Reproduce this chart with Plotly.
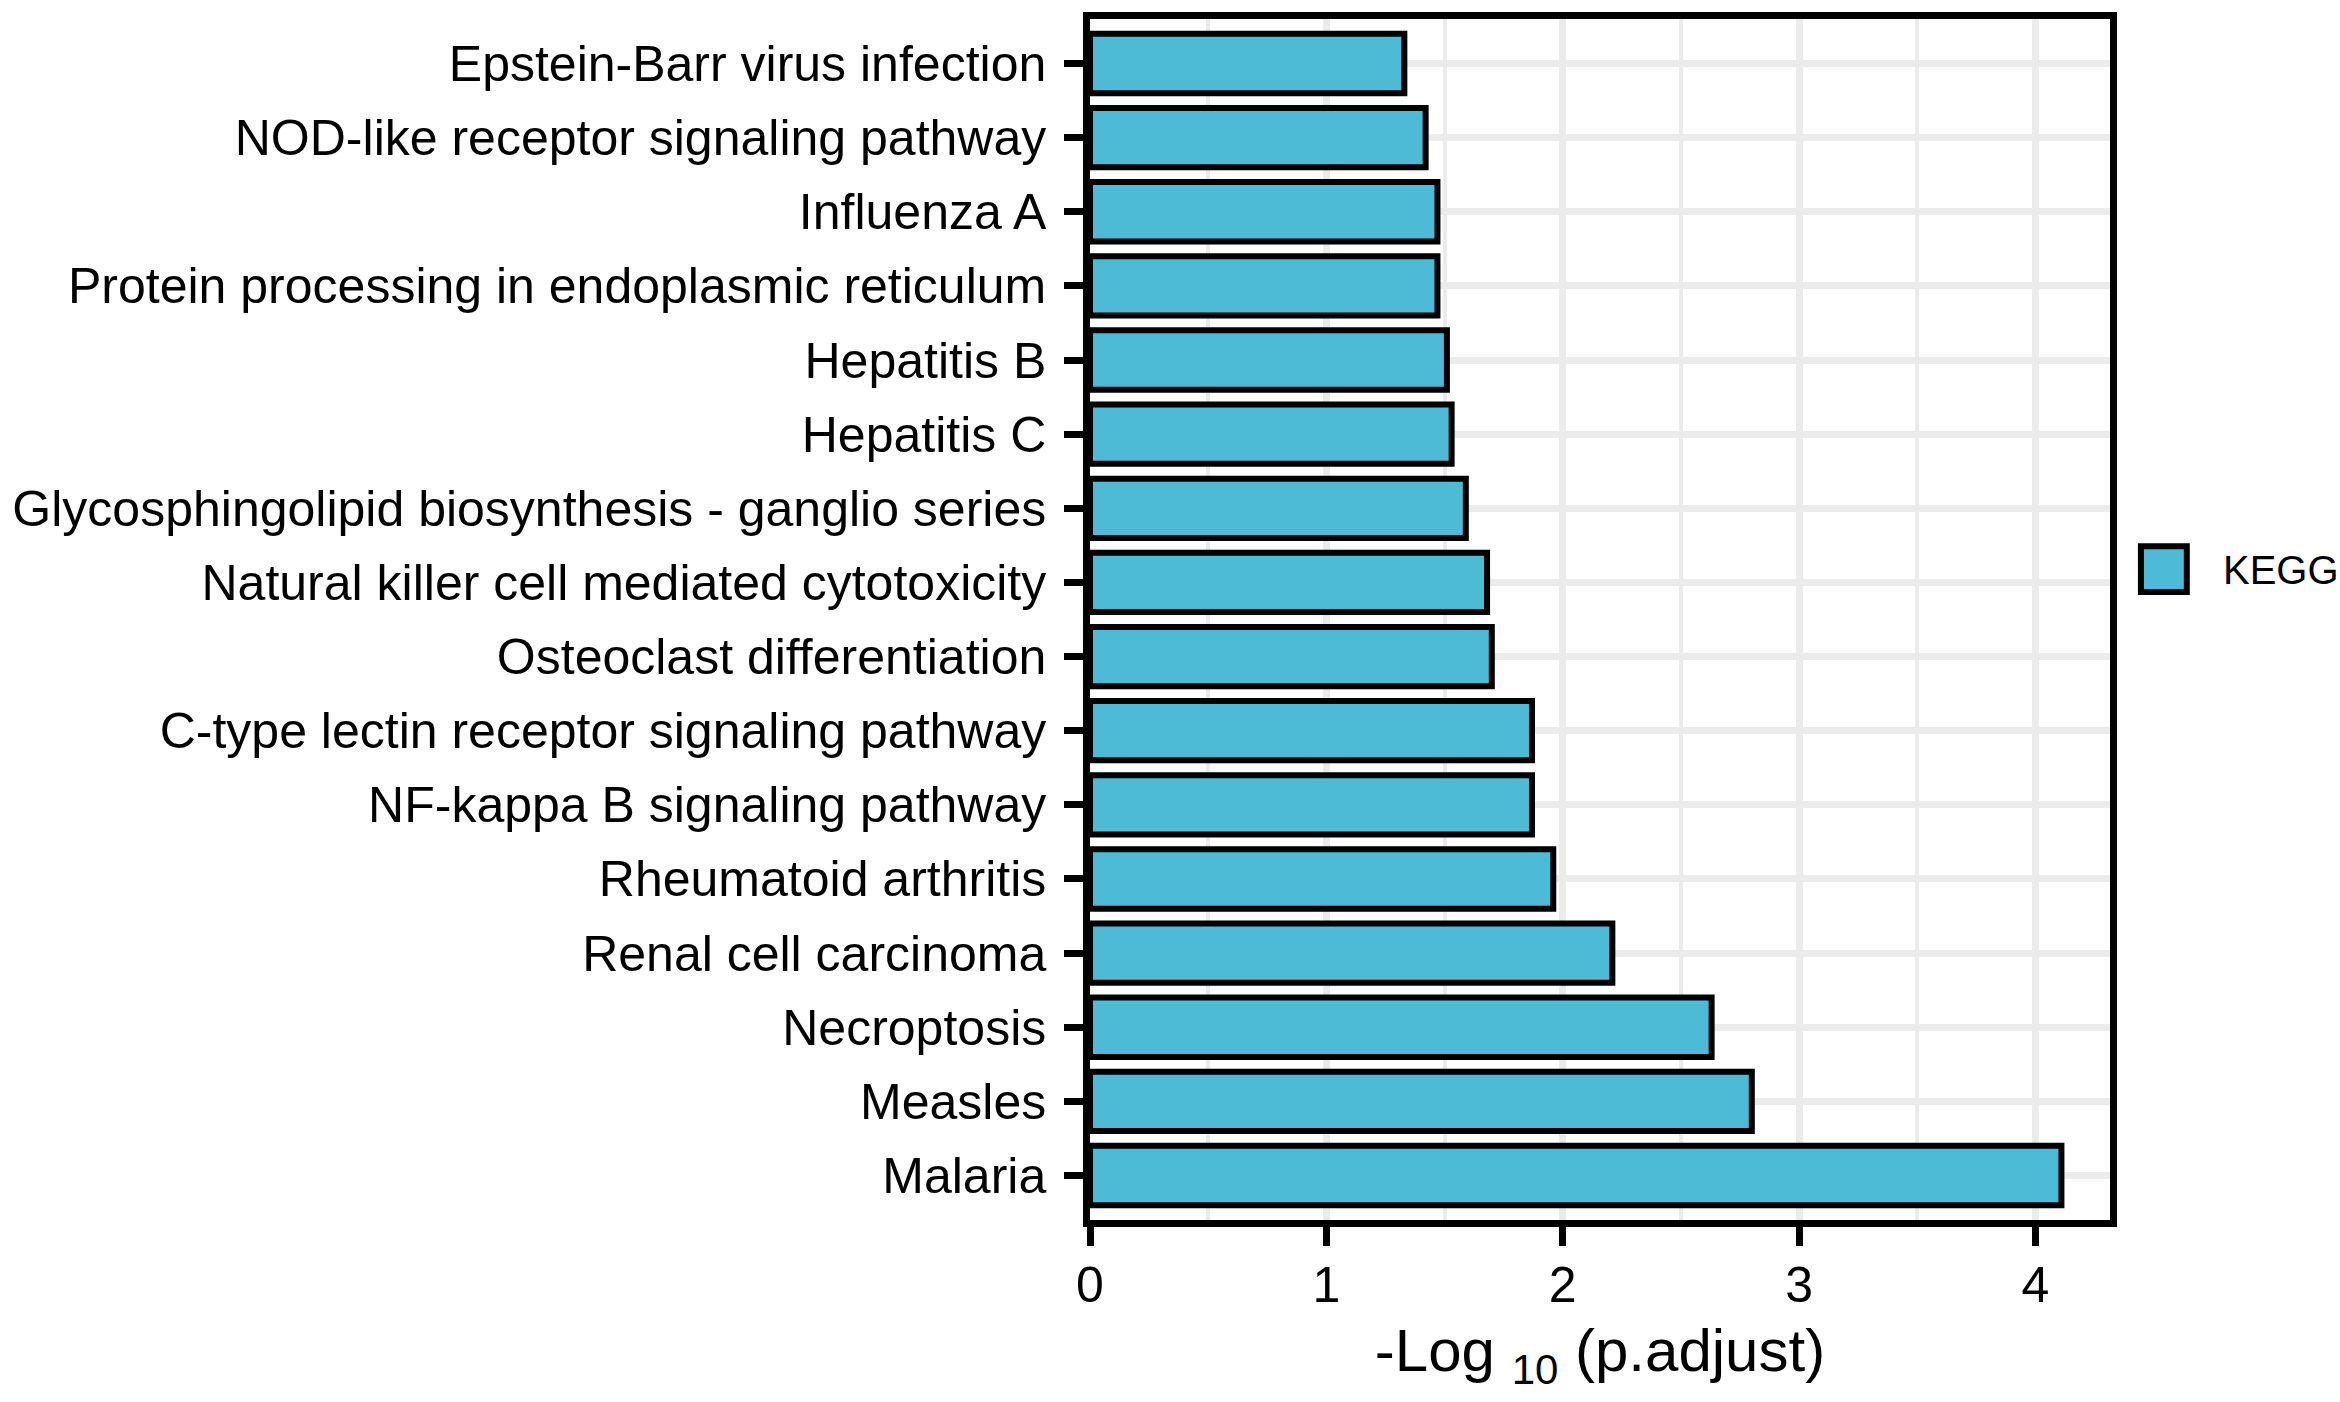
import plotly.graph_objects as go

# Categories listed top to bottom as in the chart
pathways = [
    "Epstein-Barr virus infection",
    "NOD-like receptor signaling pathway",
    "Influenza A",
    "Protein processing in endoplasmic reticulum",
    "Hepatitis B",
    "Hepatitis C",
    "Glycosphingolipid biosynthesis - ganglio series",
    "Natural killer cell mediated cytotoxicity",
    "Osteoclast differentiation",
    "C-type lectin receptor signaling pathway",
    "NF-kappa B signaling pathway",
    "Rheumatoid arthritis",
    "Renal cell carcinoma",
    "Necroptosis",
    "Measles",
    "Malaria",
]
neg_log10_padj = [1.33, 1.42, 1.47, 1.47, 1.51, 1.53, 1.59, 1.68, 1.70,
                  1.87, 1.87, 1.96, 2.21, 2.63, 2.80, 4.11]
x_ticks = [0, 1, 2, 3, 4]
x_title = "-Log <sub>10</sub> (p.adjust)"
series_name = "KEGG"

BAR_COLOR = "#4DBBD5"
GRID = "#EBEBEB"
FONT = "Liberation Sans, Arial, sans-serif"

fig = go.Figure()
fig.add_trace(go.Bar(
    y=pathways,
    x=neg_log10_padj,
    orientation="h",
    width=0.8,
    name=series_name,
    showlegend=False,
    marker=dict(color=BAR_COLOR, line=dict(color="black", width=6)),
))

xmax = max(neg_log10_padj) * 1.05

fig.update_layout(
    width=2340,
    height=1402,
    margin=dict(l=1087, r=230, t=13, b=182, pad=0),
    paper_bgcolor="white",
    plot_bgcolor="white",
    font=dict(family=FONT, color="black", size=50),
)

fig.update_xaxes(
    range=[0, xmax],
    tickmode="array",
    tickvals=x_ticks,
    ticktext=[str(t) for t in x_ticks],
    showgrid=True, gridcolor=GRID, gridwidth=7,
    minor=dict(tick0=0, dtick=0.5, showgrid=True, gridcolor=GRID, gridwidth=3.5),
    zeroline=False,
    showline=True, linecolor="black", linewidth=6.5, mirror=True,
    ticks="outside", ticklen=19, tickwidth=6.5, tickcolor="black",
    ticklabelstandoff=-4,
    tickfont=dict(family=FONT, size=50, color="black"),
    title=dict(text=x_title, standoff=20,
               font=dict(family=FONT, size=60, color="black")),
)

fig.update_yaxes(
    type="category",
    categoryorder="array",
    categoryarray=pathways[::-1],
    range=[-0.6, len(pathways) - 0.4],
    showgrid=True, gridcolor=GRID, gridwidth=7,
    zeroline=False,
    showline=True, linecolor="black", linewidth=6.5, mirror=True,
    ticks="outside", ticklen=19, tickwidth=6.5, tickcolor="black",
    ticklabelstandoff=8,
    tickfont=dict(family=FONT, size=50, color="black"),
)

# Legend (drawn manually to match the large ggplot key)
fig.add_shape(type="rect", xref="paper", yref="paper",
              x0=1.0303, x1=1.0753, y0=0.5228, y1=0.5609,
              fillcolor=BAR_COLOR, line=dict(color="black", width=6))
fig.add_annotation(xref="paper", yref="paper", x=1.1085, y=0.541,
                   xanchor="left", yanchor="middle", showarrow=False,
                   text=series_name,
                   font=dict(family=FONT, size=40, color="black"))

fig.write_html("out.html",
               config={"displayModeBar": False},
               post_script="document.body.style.margin='0';document.body.style.padding='0';")
